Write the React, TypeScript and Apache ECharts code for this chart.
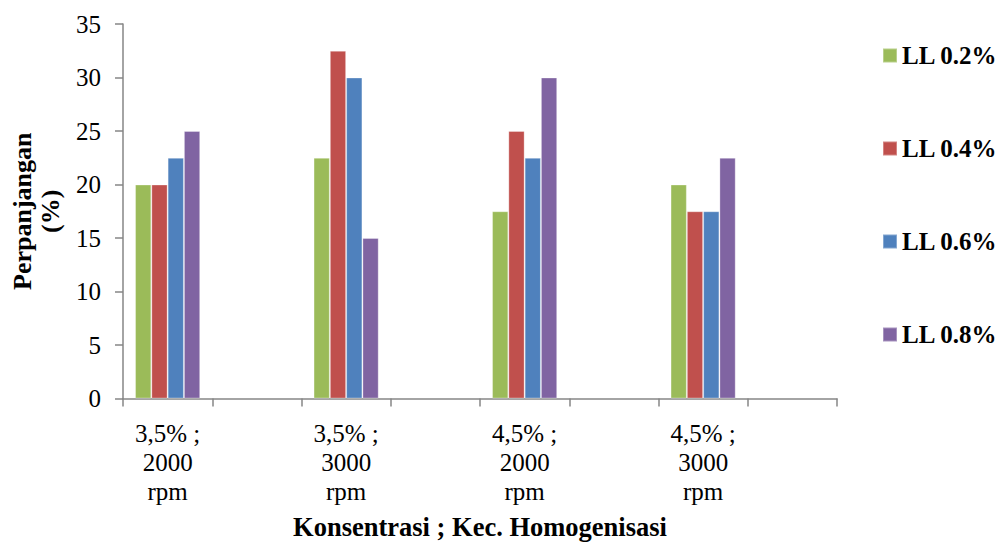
import React, { useEffect, useRef } from "react";
import * as echarts from "echarts";

const categories = [
  "3,5% ;\n2000\nrpm",
  "",
  "3,5% ;\n3000\nrpm",
  "",
  "4,5% ;\n2000\nrpm",
  "",
  "4,5% ;\n3000\nrpm",
  "",
];
const seriesNames = ["LL 0.2%", "LL 0.4%", "LL 0.6%", "LL 0.8%"];
const ll02 = [20, null, 22.5, null, 17.5, null, 20, null];
const ll04 = [20, null, 32.5, null, 25, null, 17.5, null];
const ll06 = [22.5, null, 30, null, 22.5, null, 17.5, null];
const ll08 = [25, null, 15, null, 30, null, 22.5, null];
const colors = ["#9BBB59", "#C0504D", "#4F81BD", "#8064A2"];

const FONT = '"Liberation Serif", "Times New Roman", serif';

export default function App() {
  const ref = useRef<HTMLDivElement>(null);
  useEffect(() => {
    document.body.style.margin = "0";
    if (!ref.current) return;
    const chart = echarts.init(ref.current, null, { renderer: "svg" });
    const values = [ll02, ll04, ll06, ll08];
    chart.setOption({
      animation: false,
      backgroundColor: "#ffffff",
      textStyle: { fontFamily: FONT },
      grid: { left: 123, right: 163, top: 24, bottom: 145 },
      legend: {
        orient: "vertical",
        left: 877,
        top: 38,
        itemWidth: 14,
        itemHeight: 14,
        itemGap: 68,
        icon: "rect",
        textStyle: {
          fontFamily: FONT,
          fontWeight: "bold",
          fontSize: 25,
          lineHeight: 25,
          color: "#000",
        },
        data: seriesNames,
      },
      xAxis: {
        type: "category",
        data: categories,
        boundaryGap: true,
        name: "Konsentrasi ; Kec. Homogenisasi",
        nameLocation: "middle",
        nameGap: 115,
        nameTextStyle: {
          fontFamily: FONT,
          fontWeight: "bold",
          fontSize: 26.5,
          lineHeight: 26,
          color: "#000",
        },
        axisLine: { lineStyle: { color: "#868686", width: 1.5 } },
        axisTick: {
          show: true,
          interval: 0,
          length: 8,
          lineStyle: { color: "#868686", width: 1.5 },
        },
        axisLabel: {
          interval: 0,
          margin: 20,
          fontFamily: FONT,
          fontSize: 25,
          lineHeight: 29,
          color: "#000",
        },
        splitLine: { show: false },
      },
      yAxis: {
        type: "value",
        min: 0,
        max: 35,
        interval: 5,
        name: "Perpanjangan\n(%)",
        nameLocation: "middle",
        nameGap: 59,
        nameTextStyle: {
          fontFamily: FONT,
          fontWeight: "bold",
          fontSize: 26,
          lineHeight: 28,
          color: "#000",
        },
        axisLine: { show: true, lineStyle: { color: "#868686", width: 1.5 } },
        axisTick: {
          show: true,
          length: 8,
          lineStyle: { color: "#868686", width: 1.5 },
        },
        axisLabel: {
          margin: 22,
          fontFamily: FONT,
          fontSize: 25,
          color: "#000",
        },
        splitLine: { show: false },
      },
      series: seriesNames.map((name, i) => ({
        name,
        type: "bar",
        data: values[i],
        barGap: "0%",
        barCategoryGap: "27%",
        itemStyle: {
          color: colors[i],
          borderColor: "rgba(255,255,255,0.3)",
          borderWidth: 1,
        },
      })),
    });
    return () => chart.dispose();
  }, []);
  return <div ref={ref} style={{ width: 1000, height: 545 }} />;
}
